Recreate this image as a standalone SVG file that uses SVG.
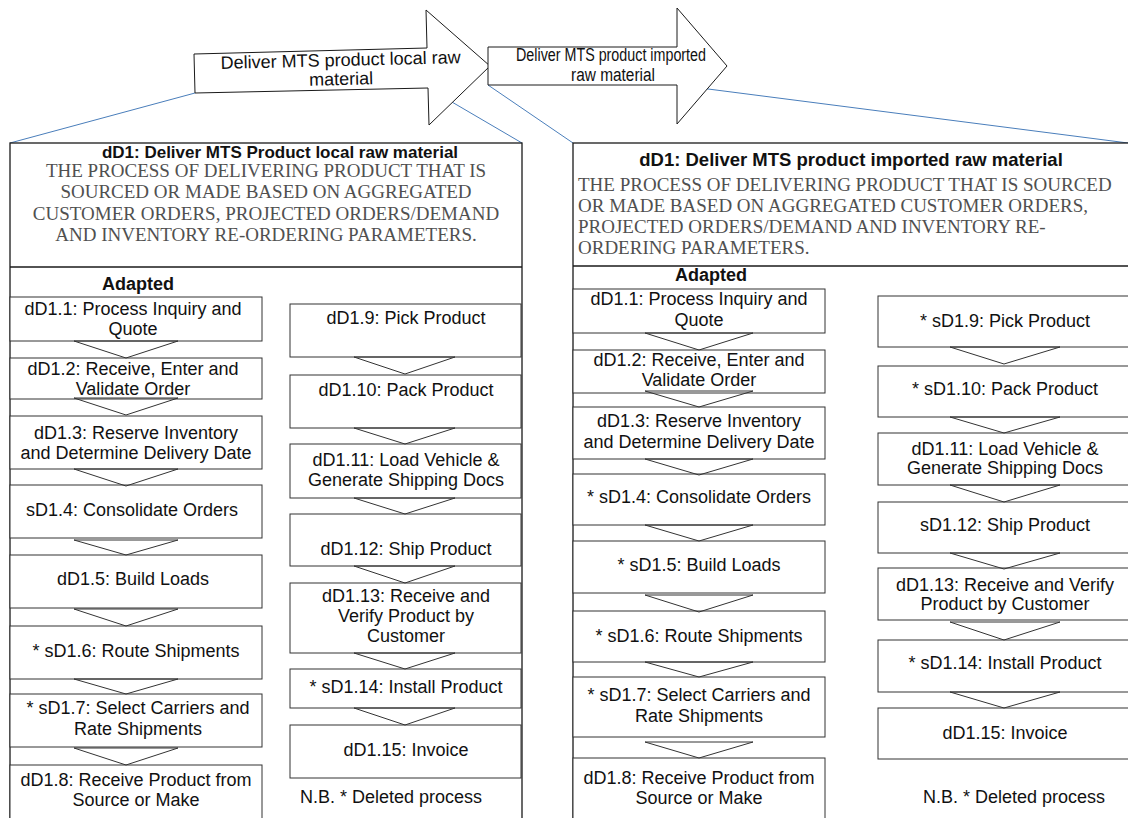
<svg xmlns="http://www.w3.org/2000/svg" width="1128" height="818" viewBox="0 0 1128 818">
  <style>
    .bg { fill: #ffffff; }
    .frame { fill: #ffffff; stroke: #1a1a1a; stroke-width: 1.3; }
    .box { fill: #ffffff; stroke: #333333; stroke-width: 1; }
    .chev { fill: none; stroke: #333333; stroke-width: 1; }
    .zoom { stroke: #4a7ebb; stroke-width: 1; fill: none; }
    .arrow { fill: #ffffff; stroke: #1a1a1a; stroke-width: 1; }
    .t { font-family: "Liberation Sans", Arial, sans-serif; font-size: 18px; fill: #111111; text-anchor: middle; }
    .title { font-family: "Liberation Sans", Arial, sans-serif; font-size: 17px; font-weight: bold; fill: #111111; }
    .desc { font-family: "Liberation Serif", "Times New Roman", serif; font-size: 19px; fill: #505050; }
    .arrowtext { font-family: "Liberation Sans", Arial, sans-serif; font-size: 18px; fill: #111111; text-anchor: middle; }
  </style>

  <rect class="bg" x="0" y="0" width="1128" height="818"/>

  <!-- zoom-out guide lines from the process arrows to their detail panels -->
  <g id="connectors">
    <line class="zoom" x1="195" y1="93" x2="10" y2="143"/>
    <line class="zoom" x1="428" y1="88" x2="522" y2="143"/>
    <line class="zoom" x1="488" y1="85" x2="573" y2="143"/>
    <line class="zoom" x1="677" y1="85" x2="1128" y2="143"/>
  </g>

  <!-- process arrow: local raw material -->
  <g id="arrow-local">
    <polygon class="arrow" points="194,54 427,48 426,10 490,66 429,125 428,88 195,93"/>
    <g transform="rotate(-1.4 341 72)">
      <text class="arrowtext" x="341" y="66">Deliver MTS product local raw</text>
      <text class="arrowtext" x="341" y="85">material</text>
    </g>
  </g>

  <!-- process arrow: imported raw material -->
  <g id="arrow-imported">
    <polygon class="arrow" points="488,47 677,47 677,8 727,66 677,124 677,85 488,85"/>
    <text class="arrowtext" x="611" y="61" textLength="190" lengthAdjust="spacingAndGlyphs">Deliver MTS product imported</text>
    <text class="arrowtext" x="613" y="81" textLength="84" lengthAdjust="spacingAndGlyphs">raw material</text>
  </g>

  <!-- ===== panel: local raw material ===== -->
  <g id="panel-local">
    <rect class="frame" x="10" y="143" width="512" height="690"/>
    <line class="frame" x1="10" y1="267" x2="522" y2="267"/>
    <text class="title" x="280" y="158" text-anchor="middle">dD1: Deliver MTS Product local raw material</text>
    <text class="desc" x="266" y="177" text-anchor="middle">THE PROCESS OF DELIVERING PRODUCT THAT IS</text>
    <text class="desc" x="266" y="198" text-anchor="middle">SOURCED OR MADE BASED ON AGGREGATED</text>
    <text class="desc" x="266" y="220" text-anchor="middle">CUSTOMER ORDERS, PROJECTED ORDERS/DEMAND</text>
    <text class="desc" x="266" y="241" text-anchor="middle">AND INVENTORY RE-ORDERING PARAMETERS.</text>
    <text class="title" x="138" y="290" text-anchor="middle" style="font-size:18px">Adapted</text>
  </g>

  <g id="local-d1-1"><rect class="box" x="10" y="297" width="252" height="44"/>
    <text class="t" x="133" y="315">dD1.1: Process Inquiry and</text><text class="t" x="133" y="335">Quote</text></g>
  <g id="local-d1-2"><rect class="box" x="10" y="358" width="252" height="41"/>
    <text class="t" x="133" y="375">dD1.2: Receive, Enter and</text><text class="t" x="133" y="395">Validate Order</text></g>
  <g id="local-d1-3"><rect class="box" x="10" y="416" width="252" height="53"/>
    <text class="t" x="136" y="439">dD1.3: Reserve Inventory</text><text class="t" x="136" y="459">and Determine Delivery Date</text></g>
  <g id="local-d1-4"><rect class="box" x="10" y="485" width="252" height="53"/>
    <text class="t" x="132" y="516">sD1.4: Consolidate Orders</text></g>
  <g id="local-d1-5"><rect class="box" x="10" y="555" width="252" height="53"/>
    <text class="t" x="133" y="585">dD1.5: Build Loads</text></g>
  <g id="local-d1-6"><rect class="box" x="10" y="626" width="252" height="53"/>
    <text class="t" x="136" y="657">* sD1.6: Route Shipments</text></g>
  <g id="local-d1-7"><rect class="box" x="10" y="694" width="252" height="53"/>
    <text class="t" x="138" y="714">* sD1.7: Select Carriers and</text><text class="t" x="138" y="735">Rate Shipments</text></g>
  <g id="local-d1-8"><rect class="box" x="10" y="765" width="252" height="70"/>
    <text class="t" x="136" y="786">dD1.8: Receive Product from</text><text class="t" x="136" y="806">Source or Make</text></g>

  <g id="local-d1-9"><rect class="box" x="290" y="304" width="231" height="53"/>
    <text class="t" x="406" y="324">dD1.9: Pick Product</text></g>
  <g id="local-d1-10"><rect class="box" x="290" y="375" width="231" height="53"/>
    <text class="t" x="406" y="396">dD1.10: Pack Product</text></g>
  <g id="local-d1-11"><rect class="box" x="290" y="444" width="231" height="54"/>
    <text class="t" x="406" y="466">dD1.11: Load Vehicle &amp;</text><text class="t" x="406" y="486">Generate Shipping Docs</text></g>
  <g id="local-d1-12"><rect class="box" x="290" y="514" width="231" height="52"/>
    <text class="t" x="406" y="555">dD1.12: Ship Product</text></g>
  <g id="local-d1-13"><rect class="box" x="290" y="583" width="231" height="70"/>
    <text class="t" x="406" y="602">dD1.13: Receive and</text><text class="t" x="406" y="622">Verify Product by</text><text class="t" x="406" y="642">Customer</text></g>
  <g id="local-d1-14"><rect class="box" x="290" y="669" width="231" height="39"/>
    <text class="t" x="406" y="693">* sD1.14: Install Product</text></g>
  <g id="local-d1-15"><rect class="box" x="290" y="725" width="231" height="53"/>
    <text class="t" x="406" y="756">dD1.15: Invoice</text></g>
  <text id="local-note" class="t" x="391" y="803">N.B. * Deleted process</text>

  <!-- ===== panel: imported raw material ===== -->
  <g id="panel-imported">
    <rect class="frame" x="573" y="143" width="600" height="690"/>
    <line class="frame" x1="573" y1="266" x2="1128" y2="266"/>
    <text class="title" x="851" y="166" text-anchor="middle" style="font-size:18.5px">dD1: Deliver MTS product imported raw material</text>
    <text class="desc" x="578" y="191">THE PROCESS OF DELIVERING PRODUCT THAT IS SOURCED</text>
    <text class="desc" x="578" y="212">OR MADE BASED ON AGGREGATED CUSTOMER ORDERS,</text>
    <text class="desc" x="578" y="233">PROJECTED ORDERS/DEMAND AND INVENTORY RE-</text>
    <text class="desc" x="578" y="254">ORDERING PARAMETERS.</text>
    <text class="title" x="711" y="281" text-anchor="middle" style="font-size:18px">Adapted</text>
  </g>

  <g id="imp-d1-1"><rect class="box" x="573" y="289" width="252" height="44"/>
    <text class="t" x="699" y="305">dD1.1: Process Inquiry and</text><text class="t" x="699" y="326">Quote</text></g>
  <g id="imp-d1-2"><rect class="box" x="573" y="350" width="252" height="43"/>
    <text class="t" x="699" y="366">dD1.2: Receive, Enter and</text><text class="t" x="699" y="386">Validate Order</text></g>
  <g id="imp-d1-3"><rect class="box" x="573" y="407" width="252" height="52"/>
    <text class="t" x="699" y="427">dD1.3: Reserve Inventory</text><text class="t" x="699" y="448">and Determine Delivery Date</text></g>
  <g id="imp-d1-4"><rect class="box" x="573" y="474" width="252" height="51"/>
    <text class="t" x="699" y="503">* sD1.4: Consolidate Orders</text></g>
  <g id="imp-d1-5"><rect class="box" x="573" y="541" width="252" height="52"/>
    <text class="t" x="699" y="571">* sD1.5: Build Loads</text></g>
  <g id="imp-d1-6"><rect class="box" x="573" y="611" width="252" height="51"/>
    <text class="t" x="699" y="642">* sD1.6: Route Shipments</text></g>
  <g id="imp-d1-7"><rect class="box" x="573" y="677" width="252" height="60"/>
    <text class="t" x="699" y="701">* sD1.7: Select Carriers and</text><text class="t" x="699" y="722">Rate Shipments</text></g>
  <g id="imp-d1-8"><rect class="box" x="573" y="758" width="252" height="70"/>
    <text class="t" x="699" y="784">dD1.8: Receive Product from</text><text class="t" x="699" y="804">Source or Make</text></g>

  <g id="imp-d1-9"><rect class="box" x="878" y="296" width="262" height="51"/>
    <text class="t" x="1005" y="327">* sD1.9: Pick Product</text></g>
  <g id="imp-d1-10"><rect class="box" x="878" y="366" width="262" height="51"/>
    <text class="t" x="1005" y="395">* sD1.10: Pack Product</text></g>
  <g id="imp-d1-11"><rect class="box" x="878" y="433" width="262" height="52"/>
    <text class="t" x="1005" y="455">dD1.11: Load Vehicle &amp;</text><text class="t" x="1005" y="474">Generate Shipping Docs</text></g>
  <g id="imp-d1-12"><rect class="box" x="878" y="502" width="262" height="51"/>
    <text class="t" x="1005" y="531">sD1.12: Ship Product</text></g>
  <g id="imp-d1-13"><rect class="box" x="878" y="568" width="262" height="52"/>
    <text class="t" x="1005" y="591">dD1.13: Receive and Verify</text><text class="t" x="1005" y="610">Product by Customer</text></g>
  <g id="imp-d1-14"><rect class="box" x="878" y="640" width="262" height="52"/>
    <text class="t" x="1005" y="669">* sD1.14: Install Product</text></g>
  <g id="imp-d1-15"><rect class="box" x="878" y="708" width="262" height="51"/>
    <text class="t" x="1005" y="739">dD1.15: Invoice</text></g>
  <text id="imp-note" class="t" x="1014" y="803">N.B. * Deleted process</text>

  <!-- flow chevrons between consecutive steps -->
  <g id="flow">
    <polygon class="chev" points="74,341 178,341 126,358"/>
    <polygon class="chev" points="74,398 178,398 126,415"/>
    <polygon class="chev" points="74,469 178,469 126,486"/>
    <polygon class="chev" points="74,540 178,540 126,555"/>
    <polygon class="chev" points="74,609 178,609 126,626"/>
    <polygon class="chev" points="74,679 178,679 126,694"/>
    <polygon class="chev" points="74,748 178,748 126,765"/>

    <polygon class="chev" points="354,357 455,357 405,374"/>
    <polygon class="chev" points="354,428 455,428 405,444"/>
    <polygon class="chev" points="354,498 455,498 405,514"/>
    <polygon class="chev" points="354,566 455,566 405,583"/>
    <polygon class="chev" points="354,653 455,653 405,669"/>
    <polygon class="chev" points="354,708 455,708 405,725"/>

    <polygon class="chev" points="645,333 753,333 699,350"/>
    <polygon class="chev" points="645,391 753,391 699,407"/>
    <polygon class="chev" points="645,459 753,459 699,475"/>
    <polygon class="chev" points="645,525 753,525 699,541"/>
    <polygon class="chev" points="645,595 753,595 699,612"/>
    <polygon class="chev" points="645,662 753,662 699,677"/>
    <polygon class="chev" points="645,742 753,742 699,758"/>

    <polygon class="chev" points="950,347 1060,347 1004,364"/>
    <polygon class="chev" points="950,417 1060,417 1004,433"/>
    <polygon class="chev" points="950,485 1060,485 1004,502"/>
    <polygon class="chev" points="950,553 1060,553 1004,569"/>
    <polygon class="chev" points="950,622 1060,622 1004,640"/>
    <polygon class="chev" points="950,692 1060,692 1004,708"/>
  </g>
</svg>
